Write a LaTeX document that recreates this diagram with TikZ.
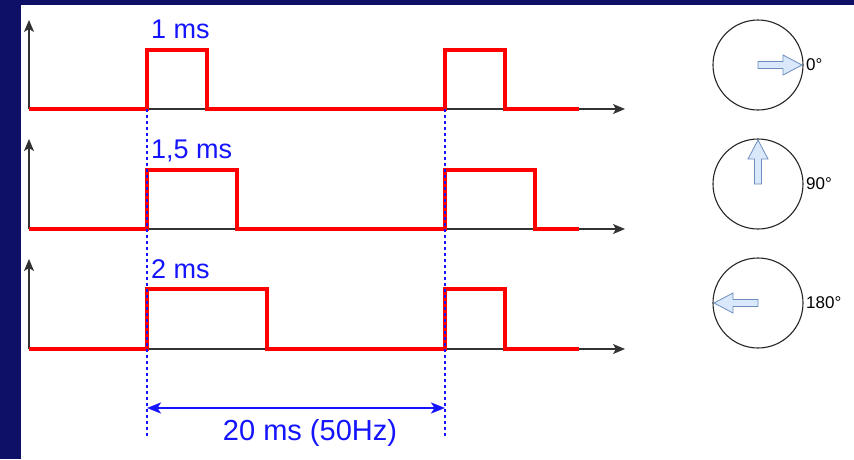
\documentclass[tikz,border=0pt]{standalone}
\usepackage{fontspec}
\setmainfont{Liberation Sans}
\usetikzlibrary{arrows.meta}
\definecolor{navy}{RGB}{14,16,104}
\definecolor{pulsered}{RGB}{255,0,0}
\definecolor{labelblue}{RGB}{20,20,255}
\definecolor{pointerfill}{RGB}{218,232,252}
\definecolor{pointerline}{RGB}{108,142,191}

\begin{document}
\begin{tikzpicture}[x=1pt,y=-1pt,
	axis/.style={draw=black!80, line width=1.2pt, -{Stealth[length=12pt,width=10pt,inset=3pt]}},
	pulse/.style={draw=pulsered, line width=3.5pt},
	guide/.style={draw=labelblue, line width=1.1pt, dash pattern=on 3pt off 3pt},
	period/.style={draw=labelblue, line width=2.2pt, {Stealth[length=14pt,width=11pt,inset=3.5pt]}-{Stealth[length=14pt,width=11pt,inset=3.5pt]}},
	width label/.style={text=labelblue, font=\fontsize{27}{30}\selectfont, anchor=base west, inner sep=0pt},
	dial/.style={draw=black!85, line width=1.1pt, circle, minimum size=90pt, inner sep=0pt},
	angle label/.style={font=\fontsize{17}{20}\selectfont, anchor=west, inner sep=1pt},
	pointer/.pic={\draw[draw=pointerline, fill=pointerfill, line width=0.8pt] (0,-3.5) -- (25,-3.5) -- (25,-10) -- (44,0) -- (25,10) -- (25,3.5) -- (0,3.5) -- cycle;}]
	\useasboundingbox (0,0) rectangle (854,459);
	\fill[navy] (0,0) rectangle (854,459);
	\fill[white] (21,5) rectangle (854,459);

	% axes
	\coordinate (o1) at (29,109);
	\coordinate (o2) at (29,229);
	\coordinate (o3) at (29,349);
	\coordinate (y1) at (29,20);
	\coordinate (y2) at (29,139);
	\coordinate (y3) at (29,259);
	\coordinate (x1) at (625,109);
	\coordinate (x2) at (625,229);
	\coordinate (x3) at (625,349);
	\draw[axis] (o1) -- (y1);
	\draw[axis] (o1) -- (x1);
	\draw[axis] (o2) -- (y2);
	\draw[axis] (o2) -- (x2);
	\draw[axis] (o3) -- (y3);
	\draw[axis] (o3) -- (x3);

	% pulse trains
	\draw[pulse] (o1) -- (147,109) |- (207,50) |- (445,109) |- (505,50) |- (579,109);
	\draw[pulse] (o2) -- (147,229) |- (237,170) |- (445,229) |- (535,170) |- (579,229);
	\draw[pulse] (o3) -- (147,349) |- (267,289) |- (445,349) |- (505,289) |- (579,349);

	\node (w1) at (151,38) [width label] {1 ms};
	\node (w2) at (151,158) [width label] {1,5 ms};
	\node (w3) at (151,278) [width label] {2 ms};

	% period
	\coordinate (t0) at (147,109);
	\coordinate (t1) at (445,109);
	\coordinate (b0) at (147,438);
	\coordinate (b1) at (445,438);
	\coordinate (p0) at (147,408);
	\coordinate (p1) at (445,408);
	\draw[guide] (t0) -- (b0);
	\draw[guide] (t1) -- (b1);
	\draw[period] (p0) -- (p1);
	\node (T) at (310,440) [anchor=base, inner sep=0pt, text=labelblue, font=\fontsize{29}{32}\selectfont] {20 ms (50Hz)};

	% servo positions
	\node (d1) at (758,65) [dial] {};
	\node (d2) at (758,184) [dial] {};
	\node (d3) at (758,303) [dial] {};
	\pic at (d1) {pointer};
	\pic[rotate=90] at (d2) {pointer};
	\pic[rotate=180] at (d3) {pointer};
	\node (a1) at (805,65) [angle label] {0°};
	\node (a2) at (805,184) [angle label] {90°};
	\node (a3) at (805,303) [angle label] {180°};
\end{tikzpicture}
\end{document}
